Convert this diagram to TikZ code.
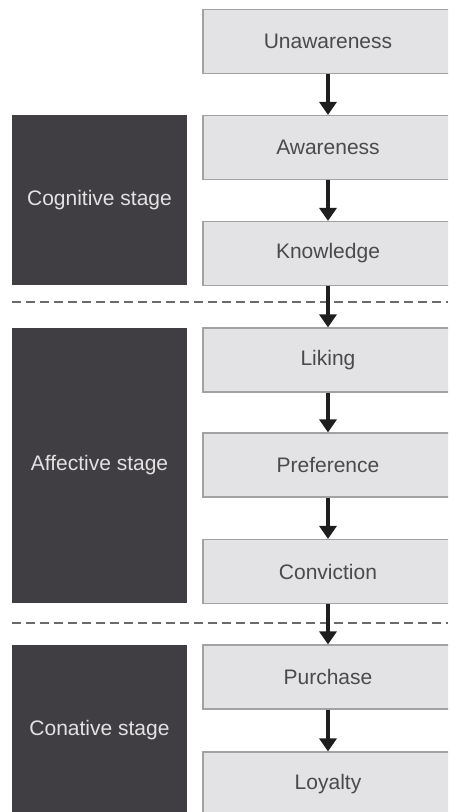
\documentclass[tikz,border=0pt]{standalone}
\usepackage{fontspec}
\setmainfont{Liberation Sans}
\usetikzlibrary{arrows.meta}
\definecolor{stepgray}{HTML}{E3E3E5}
\definecolor{framegray}{HTML}{A2A2A4}
\definecolor{labelgray}{HTML}{4A4A4C}
\definecolor{stagedark}{HTML}{403E43}
\definecolor{stagetext}{HTML}{E2E2E2}
\definecolor{arrowdark}{HTML}{1E1E1E}
\definecolor{splitgray}{HTML}{6A6A6C}

\begin{document}
\begin{tikzpicture}[x=1pt, y=-1pt, >={Triangle[width=17pt,length=13pt]},
    phase/.style={draw=framegray, line width=1.2pt, fill=stepgray, text=labelgray,
        minimum width=250pt, minimum height=64pt, inner sep=0pt,
        font=\fontsize{21}{25}\selectfont},
    stagebox/.style={fill=stagedark, text=stagetext, minimum width=175pt, inner sep=0pt,
        font=\fontsize{21}{25}\selectfont},
    flow/.style={->, line width=4pt, draw=arrowdark, fill=arrowdark},
    split/.style={draw=splitgray, line width=1.5pt, dash pattern=on 9pt off 5pt}]

\clip (0,0) rectangle (448,812);
\useasboundingbox (0,0) rectangle (448,812);

% Stage blocks on the left
\node[stagebox, minimum height=170pt] (cognitive) at (99.5, 200) {Cognitive stage};
\node[stagebox, minimum height=275pt] (affective) at (99.5, 465.5) {Affective stage};
\node[stagebox, minimum height=170pt] (conative) at (99.5, 730) {Conative stage};

% Stage separators
\draw[split] (12, 302) -- (448, 302);
\draw[split] (12, 623) -- (448, 623);

% Hierarchy steps
\node[phase] (unaware) at (328, 41.5) {Unawareness};
\node[phase] (aware) at (328, 147.5) {Awareness};
\node[phase] (know) at (328, 253.5) {Knowledge};
\node[phase] (liking) at (328, 360) {Liking};
\node[phase] (prefer) at (328, 465) {Preference};
\node[phase] (convict) at (328, 571.5) {Conviction};
\node[phase] (purchase) at (328, 677) {Purchase};
\node[phase] (loyal) at (328, 784) {Loyalty};

% Arrows between steps
\draw[flow] (unaware.south) -- (aware.north);
\draw[flow] (aware.south) -- (know.north);
\draw[flow] (know.south) -- (liking.north);
\draw[flow] (liking.south) -- (prefer.north);
\draw[flow] (prefer.south) -- (convict.north);
\draw[flow] (convict.south) -- (purchase.north);
\draw[flow] (purchase.south) -- (loyal.north);

\end{tikzpicture}
\end{document}
